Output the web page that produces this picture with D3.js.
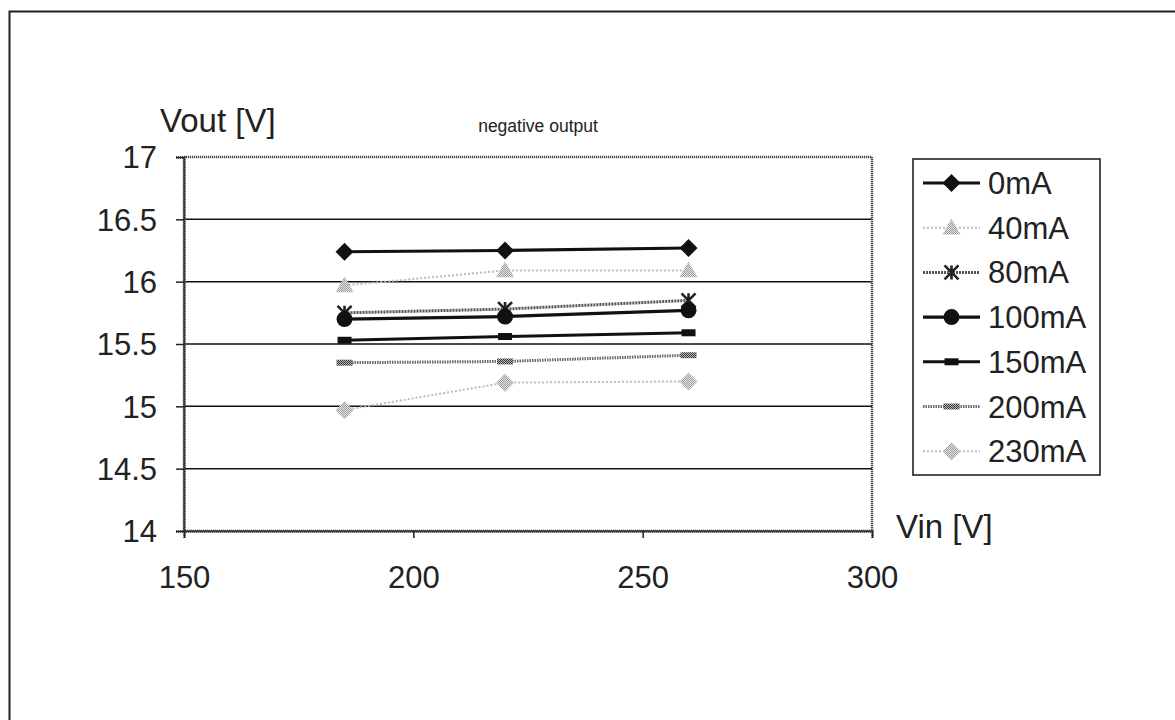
<!DOCTYPE html>
<html>
<head>
<meta charset="utf-8">
<script src="https://cdn.jsdelivr.net/npm/d3@7"></script>
<style>
  html, body { margin: 0; padding: 0; background: #fff; }
  svg { display: block; font-family: "Liberation Sans", Arial, sans-serif; }
</style>
</head>
<body>
<svg id="chart" width="1175" height="720"></svg>
<script>
// ---- data ----
const vin = [185, 220, 260];
const seriesNames = ["0mA", "40mA", "80mA", "100mA", "150mA", "200mA", "230mA"];
const v0mA   = [16.24, 16.25, 16.27];
const v40mA  = [15.97, 16.09, 16.09];
const v80mA  = [15.75, 15.78, 15.85];
const v100mA = [15.70, 15.72, 15.77];
const v150mA = [15.53, 15.56, 15.59];
const v200mA = [15.35, 15.36, 15.41];
const v230mA = [14.97, 15.19, 15.20];
const xTicks = [150, 200, 250, 300];
const yTicks = [14, 14.5, 15, 15.5, 16, 16.5, 17];

const seriesValues = [v0mA, v40mA, v80mA, v100mA, v150mA, v200mA, v230mA];

// styles per series
const styles = [
  { stroke: "#111", width: 3.2, dash: null, marker: "diamond", fill: "#111", size: 9 },
  { stroke: "#bcbcbc", width: 2, dash: "2,2", marker: "triangle", fill: "url(#stipLight)", size: 9 },
  { stroke: "#555", width: 3, dash: "2,1", marker: "star", fill: "#222", size: 7 },
  { stroke: "#111", width: 3.2, dash: null, marker: "circle", fill: "#111", size: 8 },
  { stroke: "#111", width: 3, dash: null, marker: "rect", fill: "#111", size: 7 },
  { stroke: "#6a6a6a", width: 3, dash: "1.5,1", marker: "band", fill: "url(#stipDark)", size: 8 },
  { stroke: "#bcbcbc", width: 2, dash: "2,2", marker: "diamond", fill: "url(#stipLight)", size: 9 }
];

const svg = d3.select("#chart");

// patterns
const defs = svg.append("defs");
function stipple(id, bg, fg) {
  const p = defs.append("pattern").attr("id", id).attr("width", 2).attr("height", 2)
    .attr("patternUnits", "userSpaceOnUse");
  p.append("rect").attr("width", 2).attr("height", 2).attr("fill", bg);
  p.append("rect").attr("width", 1).attr("height", 1).attr("fill", fg);
  p.append("rect").attr("x", 1).attr("y", 1).attr("width", 1).attr("height", 1).attr("fill", fg);
}
stipple("stipLight", "#e6e6e6", "#9a9a9a");
stipple("stipDark", "#bbbbbb", "#333333");

// outer border
svg.append("rect").attr("x", 9.5).attr("y", 11.5).attr("width", 1300).attr("height", 900)
  .attr("fill", "none").attr("stroke", "#222").attr("stroke-width", 2);

const x = d3.scaleLinear().domain([150, 300]).range([184, 872]);
const y = d3.scaleLinear().domain([14, 17]).range([531, 157]);

// gridlines
svg.append("g").selectAll("line").data(yTicks.filter(t => t > 14 && t < 17)).join("line")
  .attr("x1", x(150)).attr("x2", x(300))
  .attr("y1", d => y(d)).attr("y2", d => y(d))
  .attr("stroke", "#111").attr("stroke-width", 1.5);

// plot border (hatched look)
svg.append("rect").attr("x", x(150)).attr("y", y(17))
  .attr("width", x(300) - x(150)).attr("height", y(14) - y(17))
  .attr("fill", "none").attr("stroke", "#444").attr("stroke-width", 2.4)
  .attr("stroke-dasharray", "1.2,0.8");

// axes
const yAxis = d3.axisLeft(y).tickValues(yTicks).tickSize(8).tickPadding(19)
  .tickFormat(d => d3.format("")(d));
const gy = svg.append("g").attr("transform", `translate(${x(150)},0)`).call(yAxis);
gy.select(".domain").attr("stroke", "#333").attr("stroke-width", 2.4).attr("stroke-dasharray", "1.2,0.8");
gy.selectAll(".tick line").attr("stroke", "#222").attr("stroke-width", 1.5);
gy.selectAll(".tick text").attr("font-size", 31).attr("fill", "#222")
  .attr("font-family", "Liberation Sans, Arial, sans-serif").attr("dy", "0.35em");

const xAxis = d3.axisBottom(x).tickValues(xTicks).tickSize(7).tickPadding(28);
const gx = svg.append("g").attr("transform", `translate(0,${y(14)})`).call(xAxis);
gx.select(".domain").attr("stroke", "#333").attr("stroke-width", 2.4).attr("stroke-dasharray", "1.2,0.8");
gx.selectAll(".tick line").attr("stroke", "#222").attr("stroke-width", 1.5);
gx.selectAll(".tick text").attr("font-size", 31).attr("fill", "#222")
  .attr("font-family", "Liberation Sans, Arial, sans-serif");

// titles
svg.append("text").attr("x", 160).attr("y", 132).attr("font-size", 33).attr("fill", "#222").text("Vout [V]");
svg.append("text").attr("x", 896).attr("y", 538).attr("font-size", 33).attr("fill", "#222").text("Vin [V]");
svg.append("text").attr("x", 538).attr("y", 132).attr("font-size", 17.5).attr("fill", "#222")
  .attr("text-anchor", "middle").text("negative output");

// marker drawing
function drawMarker(g, st, cx, cy) {
  const s = st.size;
  if (st.marker === "diamond") {
    g.append("path").attr("d", `M${cx},${cy - s}L${cx + s},${cy}L${cx},${cy + s}L${cx - s},${cy}Z`)
      .attr("fill", st.fill);
  } else if (st.marker === "triangle") {
    g.append("path").attr("d", `M${cx},${cy - s}L${cx + s},${cy + s * 0.75}L${cx - s},${cy + s * 0.75}Z`)
      .attr("fill", st.fill);
  } else if (st.marker === "circle") {
    g.append("circle").attr("cx", cx).attr("cy", cy).attr("r", s).attr("fill", st.fill);
  } else if (st.marker === "rect") {
    g.append("rect").attr("x", cx - s).attr("y", cy - 3.5).attr("width", 2 * s).attr("height", 7).attr("fill", st.fill);
  } else if (st.marker === "band") {
    g.append("rect").attr("x", cx - s).attr("y", cy - 3).attr("width", 2 * s).attr("height", 6).attr("fill", st.fill);
  } else if (st.marker === "star") {
    const pth = `M${cx - s},${cy - s}L${cx + s},${cy + s}M${cx + s},${cy - s}L${cx - s},${cy + s}M${cx},${cy - s}L${cx},${cy + s}`;
    g.append("path").attr("d", pth).attr("stroke", st.fill).attr("stroke-width", 2.6).attr("fill", "none");
  }
}

const line = d3.line().x(d => x(d[0])).y(d => y(d[1]));

seriesValues.forEach((vals, i) => {
  const st = styles[i];
  const pts = vin.map((v, j) => [v, vals[j]]);
  const g = svg.append("g");
  g.append("path").datum(pts).attr("d", line).attr("fill", "none")
    .attr("stroke", st.stroke).attr("stroke-width", st.width)
    .attr("stroke-dasharray", st.dash);
  pts.forEach(pt => drawMarker(g, st, x(pt[0]), y(pt[1])));
});

// legend
const lg = svg.append("g");
lg.append("rect").attr("x", 913).attr("y", 159).attr("width", 187).attr("height", 316)
  .attr("fill", "#fff").attr("stroke", "#222").attr("stroke-width", 1.6);
seriesNames.forEach((name, i) => {
  const st = styles[i];
  const cy = 183 + i * 44.7;
  lg.append("line").attr("x1", 923).attr("x2", 980).attr("y1", cy).attr("y2", cy)
    .attr("stroke", st.stroke).attr("stroke-width", st.width).attr("stroke-dasharray", st.dash);
  drawMarker(lg, st, 951.5, cy);
  lg.append("text").attr("x", 988).attr("y", cy + 11).attr("font-size", 31).attr("fill", "#222").text(name);
});
</script>
</body>
</html>
